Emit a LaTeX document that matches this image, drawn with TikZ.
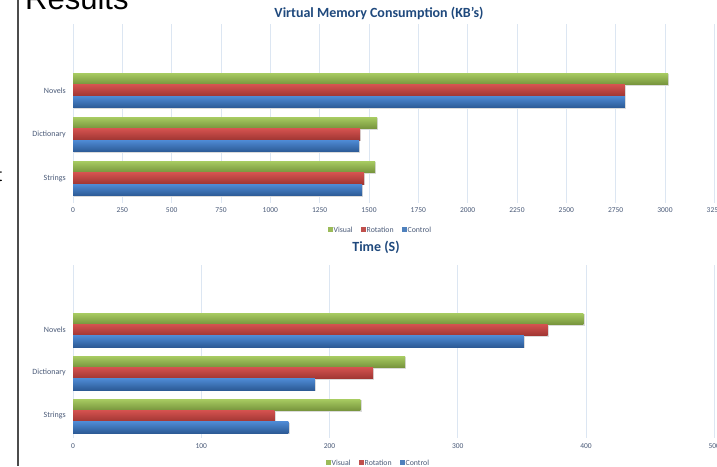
\documentclass[tikz,border=0pt]{standalone}
\usepackage{fontspec}
\setmainfont{Carlito}
\newfontfamily\slidefont{Liberation Sans}
\usetikzlibrary{positioning}

\definecolor{gridblue}{HTML}{DCE6F2}
\definecolor{axistext}{HTML}{4A5A78}
\definecolor{titleblue}{HTML}{1F497D}
\definecolor{visualmid}{HTML}{9BBB59}
\definecolor{visualtop}{HTML}{A8CC62}
\definecolor{visualbot}{HTML}{76933C}
\definecolor{rotationmid}{HTML}{C0504D}
\definecolor{rotationtop}{HTML}{D4524F}
\definecolor{rotationbot}{HTML}{9E3532}
\definecolor{controlmid}{HTML}{4F81BD}
\definecolor{controltop}{HTML}{4E8AD4}
\definecolor{controlbot}{HTML}{2C5A95}

% one bar: top y, end x, style
\newcommand{\chartbar}[3]{%
  \fill[black!14] (74,#1+1) rectangle (#2+1.3,#1+12.7);
  \shade[#3] (73,#1) rectangle (#2,#1+11.6);
}

\begin{document}
\begin{tikzpicture}[x=1pt, y=-1pt]
    % Define the styles
    \tikzstyle{gridline} = [draw=gridblue, line width=0.8pt]
    \tikzstyle{catlabel} = [anchor=east, font=\fontsize{8}{9}\selectfont, text=axistext, inner sep=0pt]
    \tikzstyle{ticklabel} = [font=\fontsize{7.5}{9}\selectfont, text=axistext, inner sep=0pt]
    \tikzstyle{charttitle} = [font=\fontsize{14}{16}\selectfont\bfseries, text=titleblue, inner sep=0pt]
    \tikzstyle{legtext} = [anchor=west, font=\fontsize{7.8}{9}\selectfont, text=axistext, inner sep=0pt]
    \tikzstyle{visualbar} = [top color=visualtop, bottom color=visualbot]
    \tikzstyle{rotationbar} = [top color=rotationtop, bottom color=rotationbot]
    \tikzstyle{controlbar} = [top color=controltop, bottom color=controlbot]

    \useasboundingbox (0,0) rectangle (717,466);
    \fill[white] (0,0) rectangle (717,466);

    % Slide leftovers
    \node[anchor=base west, inner sep=0pt, font=\fontsize{31}{31}\selectfont\slidefont] (results) at (25,9) {Results};
    \node[anchor=base west, inner sep=0pt, font=\fontsize{18}{18}\selectfont\slidefont] (cut) at (-3,181) {t};
    \draw[black!70, line width=1.4pt] (18,0) -- (18,466);

    % Memory chart
    \node[charttitle] (memtitle) at (379,13) {Virtual Memory Consumption (KB's)};
    \foreach \v in {0,250,...,3250} {
        \draw[gridline] (73+\v*0.19733,24) -- (73+\v*0.19733,203);
        \node[ticklabel] (memtick\v) at (73+\v*0.19733,210) {\v};
    }
    \foreach \name/\y/\g/\r/\c in {Novels/73/3016/2797/2797, Dictionary/117/1541/1455/1450, Strings/161/1531/1475/1465} {
        \chartbar{\y}{73+\g*0.19733}{visualbar}
        \chartbar{\y+11.6}{73+\r*0.19733}{rotationbar}
        \chartbar{\y+23.2}{73+\c*0.19733}{controlbar}
        \node[catlabel] (mem\name) at (66,\y+17.4) {\name};
    }
    \fill[visualmid] (328,227) rectangle (333,232);
    \node[legtext] (memvisual) at (333.5,229.5) {Visual};
    \fill[rotationmid] (361,227) rectangle (366,232);
    \node[legtext] (memrotation) at (366.5,229.5) {Rotation};
    \fill[controlmid] (402,227) rectangle (407,232);
    \node[legtext] (memcontrol) at (407.5,229.5) {Control};

    % Time chart
    \node[charttitle] (timetitle) at (376,247) {Time (S)};
    \foreach \v in {0,100,...,500} {
        \draw[gridline] (73+\v*1.2825,265) -- (73+\v*1.2825,438);
        \node[ticklabel] (timetick\v) at (73+\v*1.2825,446) {\v};
    }
    \foreach \name/\y/\g/\r/\c in {Novels/313/398/370/351.5, Dictionary/356/259/234/188.6, Strings/399/224/157/168} {
        \chartbar{\y}{73+\g*1.2825}{visualbar}
        \chartbar{\y+11.3}{73+\r*1.2825}{rotationbar}
        \chartbar{\y+22.6}{73+\c*1.2825}{controlbar}
        \node[catlabel] (time\name) at (66,\y+16.5) {\name};
    }
    \fill[visualmid] (326,460) rectangle (331,465);
    \node[legtext] (timevisual) at (331.5,462.5) {Visual};
    \fill[rotationmid] (359,460) rectangle (364,465);
    \node[legtext] (timerotation) at (364.5,462.5) {Rotation};
    \fill[controlmid] (400,460) rectangle (405,465);
    \node[legtext] (timecontrol) at (405.5,462.5) {Control};
\end{tikzpicture}
\end{document}
